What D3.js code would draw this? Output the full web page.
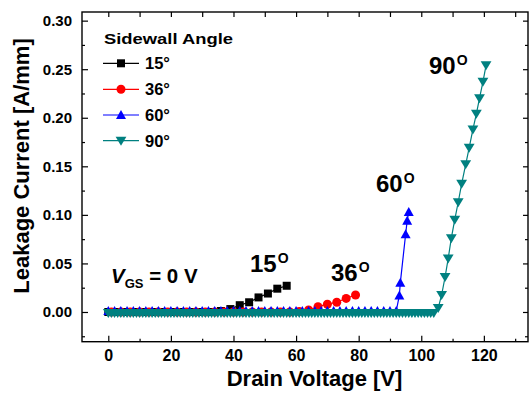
<!DOCTYPE html>
<html>
<head>
<meta charset="utf-8">
<script src="https://cdn.jsdelivr.net/npm/d3@7"></script>
<style>
  html, body { margin: 0; padding: 0; background: #fff; }
  svg { display: block; font-family: "Liberation Sans", Arial, sans-serif; font-weight: bold; }
</style>
</head>
<body>
<svg id="chart" width="529" height="398"></svg>
<script>
// ---------------- data ----------------
const seriesNames = ["15°", "36°", "60°", "90°"];
const seriesColors = ["#000000", "#ff0000", "#0000ff", "#008080"];

const v15 = [0,3,6,9,12,15,18,21,24,27,30,33,36,39,42,45,48,51,54,57];
const i15 = [0,0,0,0,0,0,0,0,0,0,0,0,0.001,0.003,0.007,0.010,0.015,0.019,0.024,0.027];

const v36 = [1,4,7,10,13,16,19,22,25,28,31,34,37,40,43,46,49,52,55,58,61,64,67,70,73,76,79];
const i36 = [0,0,0,0,0,0,0,0,0,0,0,0,0,0,0,0,0,0,0,0,0.0005,0.002,0.0055,0.008,0.010,0.014,0.0175];

const v60 = [0,2,4,6,8,10,12,14,16,18,20,22,24,26,28,30,32,34,36,38,40,42,44,46,48,50,52,54,56,58,60,62,64,66,68,70,72,74,76,78,80,82,84,86,88,90,92,93,93.3,95,95.5,96];
const i60 = [0.001,0.001,0.001,0.001,0.001,0.001,0.001,0.001,0.001,0.001,0.001,0.001,0.001,0.001,0.001,0.001,0.001,0.001,0.001,0.001,0.001,0.001,0.001,0.001,0.001,0.001,0.001,0.001,0.001,0.001,0.001,0.001,0.001,0.001,0.001,0.001,0.001,0.001,0.001,0.001,0.001,0.001,0.001,0.001,0.001,0.001,0.001,0.017,0.030,0.080,0.094,0.103];

const v90 = [0,1,2,3,4,5,6,7,8,9,10,11,12,13,14,15,16,17,18,19,20,21,22,23,24,25,26,27,28,29,30,31,32,33,34,35,36,37,38,39,40,41,42,43,44,45,46,47,48,49,50,51,52,53,54,55,56,57,58,59,60,61,62,63,64,65,66,67,68,69,70,71,72,73,74,75,76,77,78,79,80,81,82,83,84,85,86,87,88,89,90,91,92,93,94,95,96,97,98,99,100,101,102,103,104,
  105.4,106.5,107.6,108.6,109.6,110.7,111.8,112.9,114.2,115.3,116.5,117.6,118.6,119.7,120.7];
const i90 = [-0.001,-0.001,-0.001,-0.001,-0.001,-0.001,-0.001,-0.001,-0.001,-0.001,-0.001,-0.001,-0.001,-0.001,-0.001,-0.001,-0.001,-0.001,-0.001,-0.001,
  -0.001,-0.001,-0.001,-0.001,-0.001,-0.001,-0.001,-0.001,-0.001,-0.001,-0.001,-0.001,-0.001,-0.001,-0.001,-0.001,-0.001,-0.001,-0.001,-0.001,
  -0.001,-0.001,-0.001,-0.001,-0.001,-0.001,-0.001,-0.001,-0.001,-0.001,-0.001,-0.001,-0.001,-0.001,-0.001,-0.001,-0.001,-0.001,-0.001,-0.001,
  -0.001,-0.001,-0.001,-0.001,-0.001,-0.001,-0.001,-0.001,-0.001,-0.001,-0.001,-0.001,-0.001,-0.001,-0.001,-0.001,-0.001,-0.001,-0.001,-0.001,
  -0.001,-0.001,-0.001,-0.001,-0.001,-0.001,-0.001,-0.001,-0.001,-0.001,-0.001,-0.001,-0.001,-0.001,-0.001,-0.001,-0.001,-0.001,-0.001,-0.001,
  -0.001,-0.001,-0.001,-0.001,-0.001,
  0.004,0.0175,0.036,0.055,0.076,0.095,0.113,0.132,0.152,0.169,0.188,0.204,0.220,0.237,0.254];

const xMajorTicks = [0,20,40,60,80,100,120];
const xMinorTicks = [10,30,50,70,90,110,130];
const xTickLabels = ["0","20","40","60","80","100","120"];
const yMajorTicks = [0,0.05,0.10,0.15,0.20,0.25,0.30];
const yMinorTicks = [-0.025,0.025,0.075,0.125,0.175,0.225,0.275];
const yTickLabels = ["0.00","0.05","0.10","0.15","0.20","0.25","0.30"];

const xTitle = "Drain Voltage [V]";
const yTitle = "Leakage Current [A/mm]";
const legendTitle = "Sidewall Angle";

// ---------------- layout ----------------
const L = 82, R = 528, T = 12, B = 341.7;
const svg = d3.select("#chart");
svg.append("rect").attr("width", 529).attr("height", 398).attr("fill", "#fff");

const x = d3.scaleLinear().domain([-8.4, 134.1]).range([L, R]);
const y = d3.scaleLinear().domain([-0.0306, 0.3089]).range([B, T]);

function styleAxis(g) {
  g.select(".domain").remove();
  g.selectAll(".tick line").attr("stroke", "#000").attr("stroke-width", 1.2);
}
const xLabelMap = new Map(xMajorTicks.map((t, i) => [t, xTickLabels[i]]));
const yLabelMap = new Map(yMajorTicks.map((t, i) => [t, yTickLabels[i]]));

svg.append("g").attr("transform", `translate(0,${B})`)
  .call(d3.axisBottom(x).tickValues(xMajorTicks).tickSize(-6).tickPadding(8).tickFormat(d => xLabelMap.get(d)))
  .call(styleAxis)
  .call(g => g.selectAll("text").attr("font-size", 16).attr("font-family", "Liberation Sans, Arial").attr("font-weight", "bold").attr("fill", "#000"));
svg.append("g").attr("transform", `translate(0,${B})`)
  .call(d3.axisBottom(x).tickValues(xMinorTicks).tickSize(-3).tickFormat(""))
  .call(styleAxis);
svg.append("g").attr("transform", `translate(0,${T})`)
  .call(d3.axisTop(x).tickValues(xMajorTicks.concat(xMinorTicks)).tickSize(-5).tickFormat(""))
  .call(styleAxis);

svg.append("g").attr("transform", `translate(${L},0)`)
  .call(d3.axisLeft(y).tickValues(yMajorTicks).tickSize(-6).tickPadding(10).tickFormat(d => yLabelMap.get(d)))
  .call(styleAxis)
  .call(g => g.selectAll("text").attr("font-size", 15).attr("font-family", "Liberation Sans, Arial").attr("font-weight", "bold").attr("fill", "#000"));
svg.append("g").attr("transform", `translate(${L},0)`)
  .call(d3.axisLeft(y).tickValues(yMinorTicks).tickSize(-3).tickFormat(""))
  .call(styleAxis);
svg.append("g").attr("transform", `translate(${R},0)`)
  .call(d3.axisRight(y).tickValues(yMajorTicks).tickSize(-5).tickFormat(""))
  .call(styleAxis);
svg.append("g").attr("transform", `translate(${R},0)`)
  .call(d3.axisRight(y).tickValues(yMinorTicks).tickSize(-3).tickFormat(""))
  .call(styleAxis);

// frame
svg.append("rect").attr("x", L).attr("y", T).attr("width", R - L).attr("height", B - T)
  .attr("fill", "none").attr("stroke", "#000").attr("stroke-width", 1.4);

// markers
function markerPath(kind) {
  if (kind === 0) return "M-4,-4H4V4H-4Z";
  if (kind === 1) return d3.symbol(d3.symbolCircle, Math.PI * 4.5 * 4.5)();
  if (kind === 2) return "M0,-5L5,4L-5,4Z";
  return "M0,5L5.4,-4L-5.4,-4Z";
}

const allSeries = [[v15, i15], [v36, i36], [v60, i60], [v90, i90]];
const line = d3.line().x(d => x(d[0])).y(d => y(d[1]));
allSeries.forEach(([vs, is], k) => {
  const pts = vs.map((v, i) => [v, is[i]]);
  const g = svg.append("g");
  g.append("path").attr("d", line(pts)).attr("fill", "none")
    .attr("stroke", seriesColors[k]).attr("stroke-width", 1.2);
  g.selectAll("path.m").data(pts).join("path").attr("class", "m")
    .attr("d", markerPath(k))
    .attr("transform", d => `translate(${x(d[0])},${y(d[1])})`)
    .attr("fill", seriesColors[k]);
});

// legend
svg.append("text").attr("x", 104).attr("y", 44).attr("font-size", 15.5)
  .attr("textLength", 129).attr("lengthAdjust", "spacingAndGlyphs").text(legendTitle);
const legY = [63.3, 89.3, 115, 140.7];
seriesNames.forEach((name, k) => {
  const g = svg.append("g").attr("transform", `translate(0,${legY[k]})`);
  g.append("line").attr("x1", 103).attr("x2", 139).attr("y1", 0).attr("y2", 0)
    .attr("stroke", seriesColors[k]).attr("stroke-width", 1.2);
  g.append("path").attr("d", markerPath(k)).attr("transform", "translate(121,0)").attr("fill", seriesColors[k]);
  g.append("text").attr("x", 145).attr("y", 5.8).attr("font-size", 16.5).text(name);
});

// annotations
const annos = [
  { t: "15", x: 250, y: 272 },
  { t: "36", x: 331, y: 281 },
  { t: "60", x: 376, y: 192 },
  { t: "90", x: 429, y: 74 }
];
annos.forEach(a => {
  const tx = svg.append("text").attr("x", a.x).attr("y", a.y).attr("font-size", 24);
  tx.append("tspan").text(a.t);
  tx.append("tspan").attr("font-size", 14).attr("dy", -9).attr("dx", 1).text("O");
});

// V_GS label
const vg = svg.append("text").attr("x", 111).attr("y", 283).attr("font-size", 20.5);
vg.append("tspan").attr("font-style", "italic").text("V");
vg.append("tspan").attr("font-size", 13).attr("dy", 5).text("GS");
vg.append("tspan").attr("dy", -5).text(" = 0 V");

// axis titles
svg.append("text").attr("x", 314.5).attr("y", 385.5).attr("text-anchor", "middle")
  .attr("font-size", 22).text(xTitle);
svg.append("text").attr("transform", "translate(29,166) rotate(-90)").attr("text-anchor", "middle")
  .attr("font-size", 22).text(yTitle);
</script>
</body>
</html>
